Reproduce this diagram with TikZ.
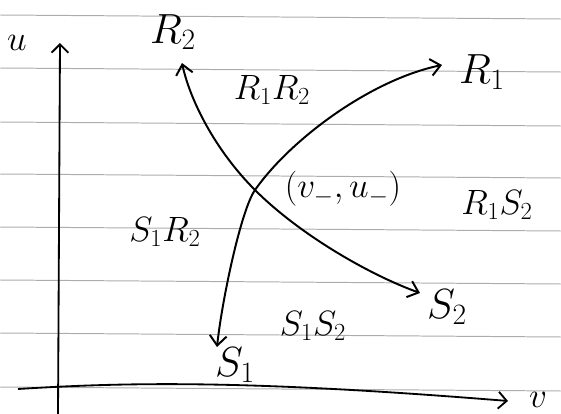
\RequirePackage{fix-cm}
\documentclass[tikz,border=0pt]{standalone}
\usetikzlibrary{arrows.meta}
\begin{document}
\begin{tikzpicture}[x=0.025cm, y=-0.025cm,
  ruled/.style={gray!65, line width=0.7pt},
  curve/.style={line width=1.4pt, -{Straight Barb[length=7pt,width=12pt]}},
  axis/.style={line width=1.3pt, -{Straight Barb[length=6pt,width=12pt]}},
  big/.style={font=\fontsize{30}{32}\selectfont},
  region/.style={font=\fontsize{25}{27}\selectfont}]
  \useasboundingbox (0,0) rectangle (561,414);
  % lines of the paper
  \foreach \y in {15,68,122,174,227,280,333,387}
    \draw[ruled] (0,\y) -- (561,\y+4);
  % axes
  \coordinate (ubot) at (58,414);
  \coordinate (utop) at (60,43);
  \coordinate (vleft) at (18,389);
  \coordinate (vright) at (508,401);
  \draw[axis] (ubot) -- (utop);
  \draw[axis] (vleft) .. controls (130,382) and (250,380) .. (vright);
  \node[region] (ulab) at (17,43) {$u$};
  \node[region, inner sep=1pt] (vlab) at (538,400) {$v$};
  % the two waves
  \coordinate (X) at (255,190);
  \coordinate (r1tip) at (442,65);
  \coordinate (r2tip) at (182,63);
  \coordinate (s1tip) at (217,347);
  \coordinate (s2tip) at (420,293);
  \draw[curve] (X) .. controls (215,150) and (190,100) .. (r2tip);
  \draw[curve] (X) .. controls (300,235) and (370,275) .. (s2tip);
  \draw[curve] (X) .. controls (290,140) and (370,80) .. (r1tip);
  \draw[curve] (X) .. controls (241,210) and (222,300) .. (s1tip);
  \node[big] (R1) at (482,72) {$R_1$};
  \node[big] (R2) at (173,32) {$R_2$};
  \node[big] (S1) at (235,365) {$S_1$};
  \node[big] (S2) at (447,307) {$S_2$};
  \node[region] (pt) at (343,189) {$(v_-,u_-)$};
  % regions
  \node[region] (R1R2) at (272,90) {$R_1R_2$};
  \node[region] (S1R2) at (165,232) {$S_1R_2$};
  \node[region] (R1S2) at (497,205) {$R_1S_2$};
  \node[region] (S1S2) at (313,326) {$S_1S_2$};
\end{tikzpicture}
\end{document}
